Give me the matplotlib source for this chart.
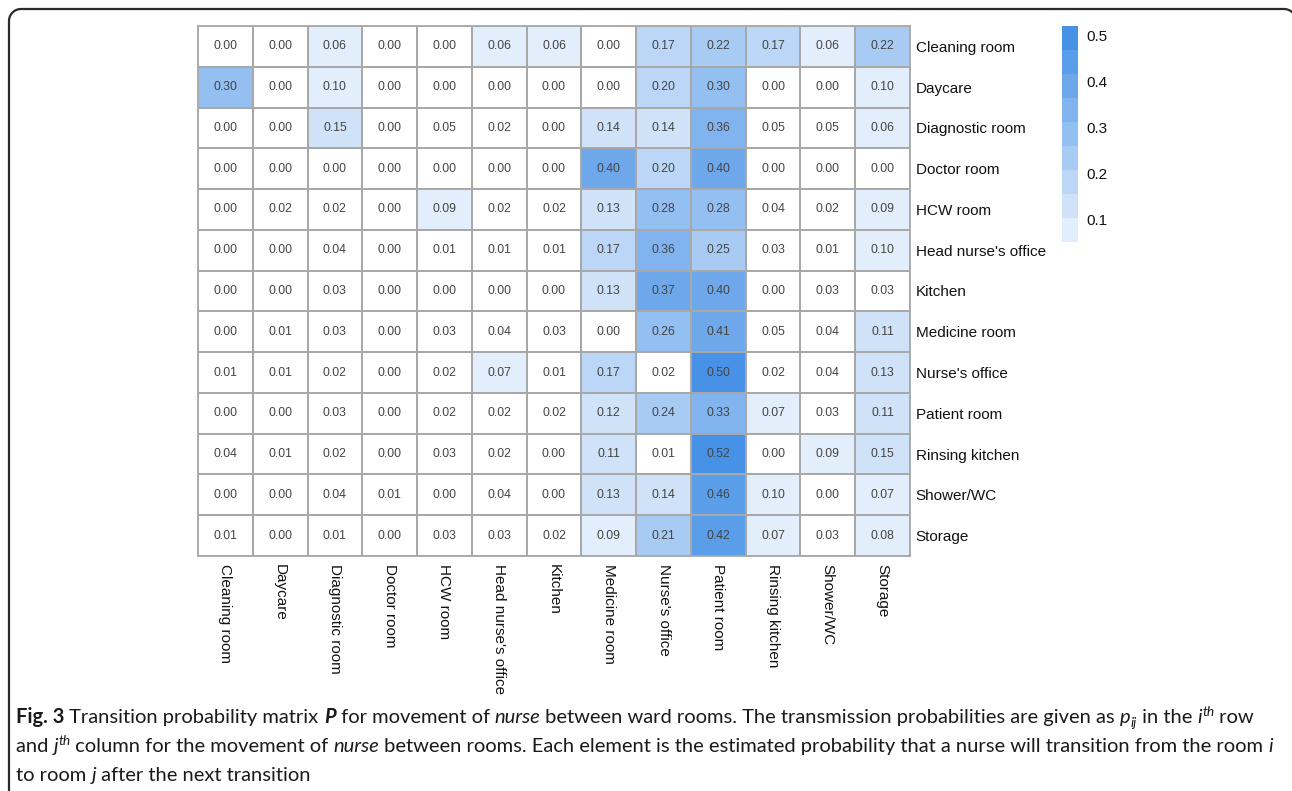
import numpy as np
import matplotlib
matplotlib.use("Agg")
import matplotlib.pyplot as plt
from matplotlib.colors import ListedColormap, BoundaryNorm, to_rgb
from matplotlib.lines import Line2D
import matplotlib.colorbar as mcolorbar

# ---- data -----------------------------------------------------------------
rooms = ["Cleaning room", "Daycare", "Diagnostic room", "Doctor room", "HCW room",
         "Head nurse's office", "Kitchen", "Medicine room", "Nurse's office",
         "Patient room", "Rinsing kitchen", "Shower/WC", "Storage"]

p_cleaning = [0.00, 0.00, 0.06, 0.00, 0.00, 0.06, 0.06, 0.00, 0.17, 0.22, 0.17, 0.06, 0.22]
p_daycare = [0.30, 0.00, 0.10, 0.00, 0.00, 0.00, 0.00, 0.00, 0.20, 0.30, 0.00, 0.00, 0.10]
p_diagnostic = [0.00, 0.00, 0.15, 0.00, 0.05, 0.02, 0.00, 0.14, 0.14, 0.36, 0.05, 0.05, 0.06]
p_doctor = [0.00, 0.00, 0.00, 0.00, 0.00, 0.00, 0.00, 0.40, 0.20, 0.40, 0.00, 0.00, 0.00]
p_hcw = [0.00, 0.02, 0.02, 0.00, 0.09, 0.02, 0.02, 0.13, 0.28, 0.28, 0.04, 0.02, 0.09]
p_head_nurse = [0.00, 0.00, 0.04, 0.00, 0.01, 0.01, 0.01, 0.17, 0.36, 0.25, 0.03, 0.01, 0.10]
p_kitchen = [0.00, 0.00, 0.03, 0.00, 0.00, 0.00, 0.00, 0.13, 0.37, 0.40, 0.00, 0.03, 0.03]
p_medicine = [0.00, 0.01, 0.03, 0.00, 0.03, 0.04, 0.03, 0.00, 0.26, 0.41, 0.05, 0.04, 0.11]
p_nurse_office = [0.01, 0.01, 0.02, 0.00, 0.02, 0.07, 0.01, 0.17, 0.02, 0.50, 0.02, 0.04, 0.13]
p_patient = [0.00, 0.00, 0.03, 0.00, 0.02, 0.02, 0.02, 0.12, 0.24, 0.33, 0.07, 0.03, 0.11]
p_rinsing = [0.04, 0.01, 0.02, 0.00, 0.03, 0.02, 0.00, 0.11, 0.01, 0.52, 0.00, 0.09, 0.15]
p_shower = [0.00, 0.00, 0.04, 0.01, 0.00, 0.04, 0.00, 0.13, 0.14, 0.46, 0.10, 0.00, 0.07]
p_storage = [0.01, 0.00, 0.01, 0.00, 0.03, 0.03, 0.02, 0.09, 0.21, 0.42, 0.07, 0.03, 0.08]

cbar_ticks = [0.1, 0.2, 0.3, 0.4, 0.5]

P = np.array([p_cleaning, p_daycare, p_diagnostic, p_doctor, p_hcw, p_head_nurse,
              p_kitchen, p_medicine, p_nurse_office, p_patient, p_rinsing,
              p_shower, p_storage])

# ---- colour scale: 10 equal bins from 0 to 0.52, first bin white ------------
vmax = 0.52
nbins = 10
bounds = np.linspace(0, vmax, nbins + 1)
dark = np.array(to_rgb("#4791E6"))
white = np.array([1.0, 1.0, 1.0])
mids = (bounds[:-1] + bounds[1:]) / 2
top_mid = mids[-1]
bin_colors = [white] + [np.clip(white + (dark - white) * (m / top_mid), 0, 1)
                        for m in mids[1:]]
cmap = ListedColormap(bin_colors)
norm = BoundaryNorm(bounds, cmap.N)

W, H = 1292, 791
plt.rcParams["font.family"] = ["Liberation Sans", "DejaVu Sans"]
fig = plt.figure(figsize=(W / 100, H / 100), dpi=100)
SANS = ["Liberation Sans", "DejaVu Sans"]


def px_axes(x0, y0, x1, y1):
    return fig.add_axes([x0 / W, 1 - y1 / H, (x1 - x0) / W, (y1 - y0) / H])


# ---- heatmap --------------------------------------------------------------
ax = px_axes(198, 26, 910, 556)
n = len(rooms)
ax.pcolormesh(np.arange(n + 1), np.arange(n + 1), P, cmap=cmap, norm=norm,
              edgecolors="#A8A8A8", linewidth=1.3)
ax.set_xlim(0, n)
ax.set_ylim(n, 0)
for i in range(n):
    for j in range(n):
        ax.text(j + 0.5, i + 0.5, f"{P[i, j]:.2f}", ha="center", va="center",
                fontsize=8.8, color="#444444", family=SANS)
ax.set_xticks(np.arange(n) + 0.5)
ax.set_xticklabels(rooms, rotation=270, fontsize=11, color="#111111", family=SANS)
ax.set_yticks(np.arange(n) + 0.5)
ax.set_yticklabels(rooms, fontsize=11, color="#111111", family=SANS)
ax.yaxis.tick_right()
ax.tick_params(axis="y", length=0, pad=4)
ax.tick_params(axis="x", length=0, pad=6)
for sp in ax.spines.values():
    sp.set_color("#A8A8A8")
    sp.set_linewidth(1.3)

# ---- colorbar -------------------------------------------------------------
cax = px_axes(1062, 26, 1078, 242)
cb_cmap = ListedColormap(bin_colors[1:])
cb_norm = BoundaryNorm(bounds[1:], cb_cmap.N)
cb = mcolorbar.ColorbarBase(cax, cmap=cb_cmap, norm=cb_norm, orientation="vertical",
                            spacing="proportional")
cb.outline.set_visible(False)
cb.set_ticks(cbar_ticks)
cb.set_ticklabels([f"{t:.1f}" for t in cbar_ticks])
cax.minorticks_off()
cax.tick_params(which="both", length=0, labelsize=11, pad=6, colors="#111111")
for lab in cax.get_yticklabels():
    lab.set_family(SANS)

# ---- frame: top edge and left edge with rounded corners --------------------
r = 12
fx0, fy0 = 9, 9
fx1 = 1284 + r
theta_l = np.linspace(np.pi / 2, np.pi, 30)
theta_r = np.linspace(0, np.pi / 2, 30)
left_arc_x = (fx0 + r) + r * np.cos(theta_l)
left_arc_y = (fy0 + r) - r * np.sin(theta_l)
right_arc_x = (fx1 - r) + r * np.cos(theta_r)
right_arc_y = (fy0 + r) - r * np.sin(theta_r)
xs = np.concatenate([[fx0], left_arc_x[::-1], right_arc_x[::-1], [fx1]])
ys = np.concatenate([[H + 5], left_arc_y[::-1], right_arc_y[::-1], [H + 5]])
fig.add_artist(Line2D(xs / W, 1 - ys / H, transform=fig.transFigure,
                      color="#2a2a2a", linewidth=1.6, solid_capstyle="butt"))

# ---- caption --------------------------------------------------------------
cap_font = "Lato"
cap_size = 14.5
cap_color = "#1a1a1a"
renderer = fig.canvas.get_renderer()


def draw_runs(x_px, y_px, runs):
    x = x_px
    for txt, style in runs:
        weight = "bold" if "b" in style.split() else "normal"
        fstyle = "italic" if "i" in style.split() else "normal"
        size = cap_size
        dy = 0
        if "sup" in style:
            size = cap_size * 0.68
            dy = -7
        elif "sub" in style:
            size = cap_size * 0.68
            dy = 4
        t = fig.text(x / W, 1 - (y_px + dy) / H, txt, fontsize=size, family=cap_font,
                     weight=weight, style=fstyle, color=cap_color,
                     ha="left", va="baseline")
        x += t.get_window_extent(renderer=renderer).width


line1 = [("Fig. 3", "b"), (" Transition probability matrix ", ""), ("P", "b i"),
         (" for movement of ", ""), ("nurse", "i"),
         (" between ward rooms. The transmission probabilities are given as ", ""),
         ("p", "i"), ("ij", "i sub"), (" in the ", ""), ("i", "i"), ("th", "i sup"),
         (" row", "")]
line2 = [("and ", ""), ("j", "i"), ("th", "i sup"), (" column for the movement of ", ""),
         ("nurse", "i"),
         (" between rooms. Each element is the estimated probability that a nurse will "
          "transition from the room ", ""), ("i", "i")]
line3 = [("to room ", ""), ("j", "i"), (" after the next transition", "")]

draw_runs(16, 723, line1)
draw_runs(16, 752, line2)
draw_runs(16, 781, line3)

fig.savefig("out.png", dpi=100)
